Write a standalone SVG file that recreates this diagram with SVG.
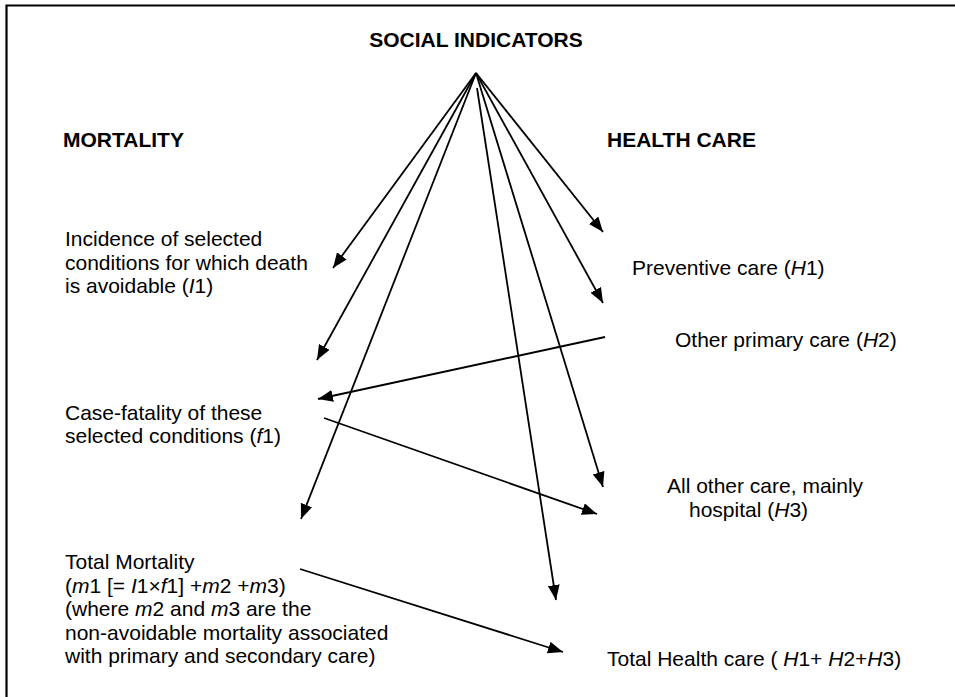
<svg xmlns="http://www.w3.org/2000/svg" width="955" height="697" viewBox="0 0 955 697">
  <style>
    text { font-family: "Liberation Sans", Arial, sans-serif; font-size: 21px; fill: #000; }
    .head { font-weight: bold; }
    .it { font-style: italic; }
    .frame { fill: none; stroke: #000; stroke-width: 2.2; }
    .conn line { stroke: #000; stroke-width: 1.8; marker-end: url(#arrow); }
  </style>
  <defs>
    <marker id="arrow" markerUnits="userSpaceOnUse" markerWidth="16" markerHeight="13" refX="15" refY="6" orient="auto">
      <path d="M0,0 L15,6 L0,12 Z" fill="#000"/>
    </marker>
  </defs>

  <rect width="955" height="697" fill="#fff"/>
  <!-- frame: top and left edges only -->
  <path class="frame" d="M6.5,697 L6.5,5.5 L955,5.5"/>

  <g id="social-indicators"><text class="head" x="476" y="47" text-anchor="middle">SOCIAL INDICATORS</text></g>
  <g id="mortality-heading"><text class="head" x="63" y="147">MORTALITY</text></g>
  <g id="health-care-heading"><text class="head" x="607" y="147">HEALTH CARE</text></g>

  <g id="incidence">
    <text x="65" y="246">Incidence of selected</text>
    <text x="65" y="270">conditions for which death</text>
    <text x="65" y="293">is avoidable (<tspan class="it">I</tspan>1)</text>
  </g>
  <g id="case-fatality">
    <text x="65" y="420">Case-fatality of these</text>
    <text x="65" y="443">selected conditions (<tspan class="it">f</tspan>1)</text>
  </g>
  <g id="total-mortality">
    <text x="65" y="569">Total Mortality</text>
    <text x="65" y="593">(<tspan class="it">m</tspan>1 [= <tspan class="it">I</tspan>1×<tspan class="it">f</tspan>1] +<tspan class="it">m</tspan>2 +<tspan class="it">m</tspan>3)</text>
    <text x="65" y="616">(where <tspan class="it">m</tspan>2 and <tspan class="it">m</tspan>3 are the</text>
    <text x="65" y="640">non-avoidable mortality associated</text>
    <text x="65" y="663">with primary and secondary care)</text>
  </g>

  <g id="preventive-care"><text x="632" y="275">Preventive care (<tspan class="it">H</tspan>1)</text></g>
  <g id="other-primary-care"><text x="675" y="347">Other primary care (<tspan class="it">H</tspan>2)</text></g>
  <g id="other-care">
    <text x="667" y="493">All other care, mainly</text>
    <text x="689" y="517">hospital (<tspan class="it">H</tspan>3)</text>
  </g>
  <g id="total-health-care"><text x="607" y="666">Total Health care ( <tspan class="it">H</tspan>1+ <tspan class="it">H</tspan>2+<tspan class="it">H</tspan>3)</text></g>

  <g id="connectors" class="conn">
    <line x1="476" y1="73" x2="333" y2="268"/>
    <line x1="476" y1="73" x2="317" y2="360"/>
    <line x1="476" y1="73" x2="301" y2="519"/>
    <line x1="477" y1="88" x2="556" y2="600"/>
    <line x1="476" y1="73" x2="603" y2="232"/>
    <line x1="476" y1="73" x2="603" y2="303"/>
    <line x1="476" y1="73" x2="603" y2="487"/>
    <line x1="605" y1="337" x2="318" y2="399"/>
    <line x1="324" y1="418" x2="597" y2="514"/>
    <line x1="300" y1="569" x2="563" y2="652"/>
  </g>
</svg>
